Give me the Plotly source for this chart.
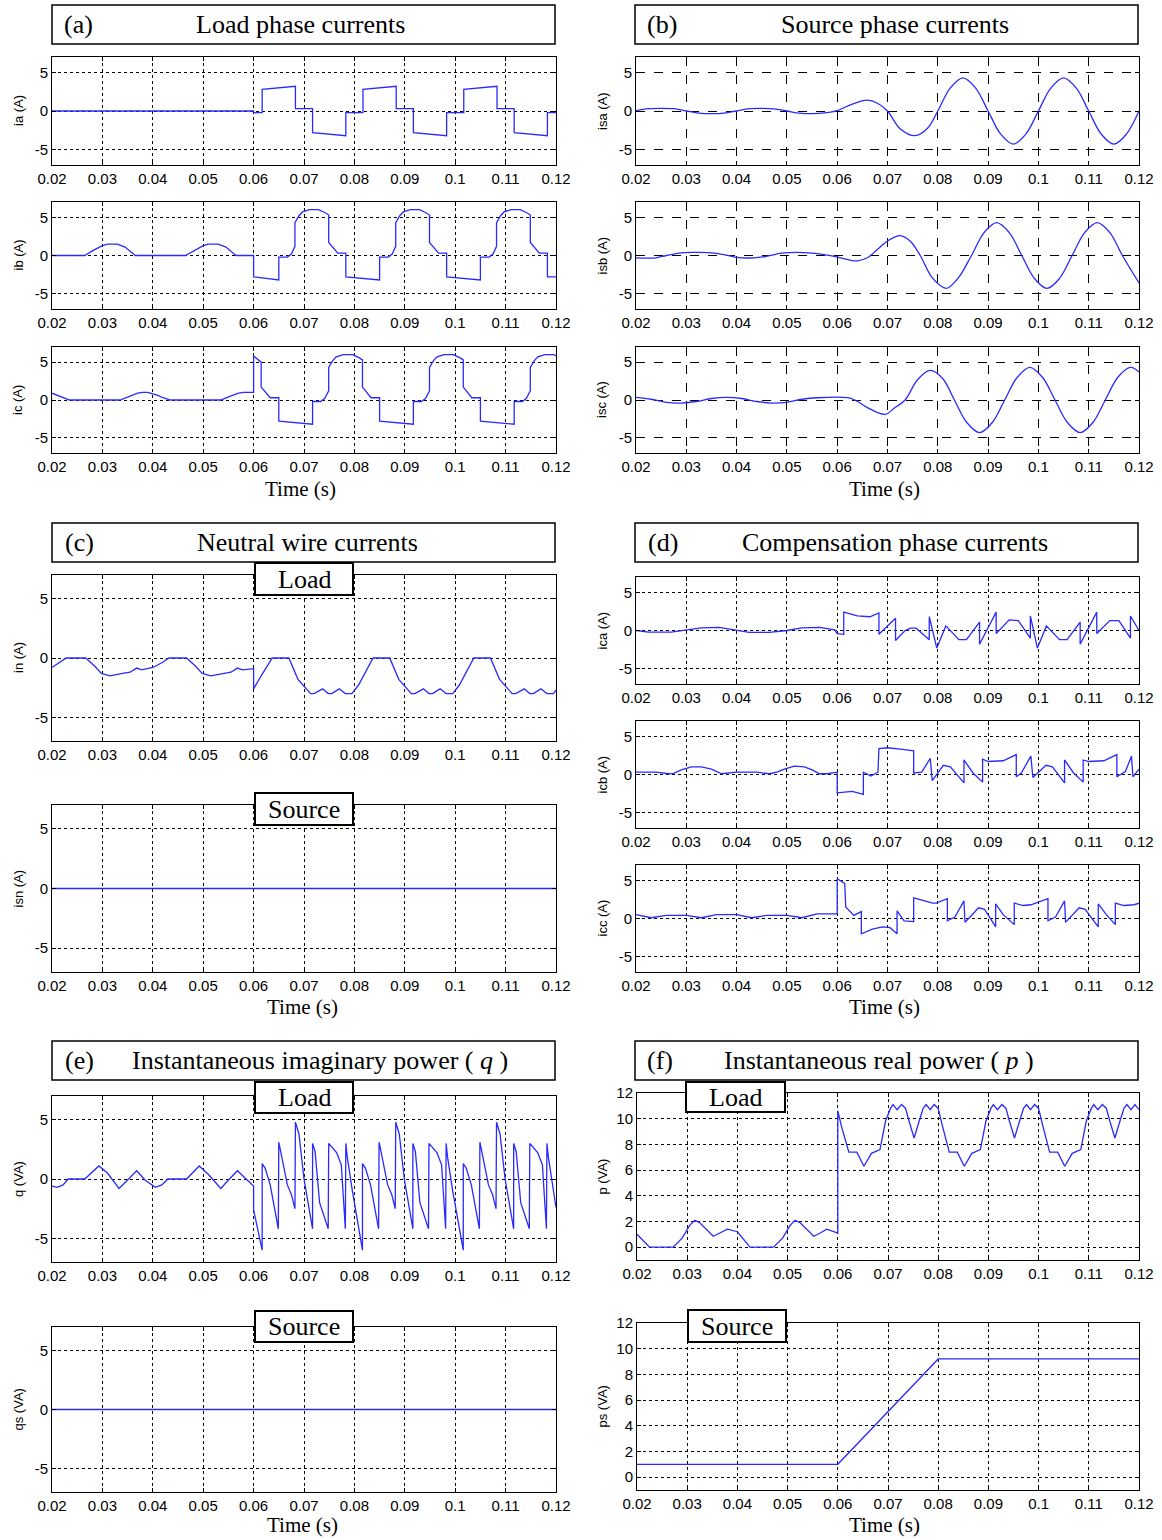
import plotly.graph_objects as go

# ---------------- data ----------------
x_ticks = [0.02, 0.03, 0.04, 0.05, 0.06, 0.07, 0.08, 0.09, 0.10, 0.11, 0.12]
x_tick_labels = ["0.02", "0.03", "0.04", "0.05", "0.06", "0.07", "0.08", "0.09", "0.1", "0.11", "0.12"]
i_ticks = [-5, 0, 5]
p_ticks = [0, 2, 4, 6, 8, 10, 12]

# (a) load phase currents
ia_t = [0.02, 0.06, 0.06, 0.0617, 0.0617, 0.0683, 0.0683, 0.0717, 0.0717, 0.0783, 0.0783, 0.0817, 0.0817,
        0.0883, 0.0883, 0.0917, 0.0917, 0.0983, 0.0983, 0.1017, 0.1017, 0.1083, 0.1083, 0.1117, 0.1117,
        0.1183, 0.1183, 0.12]
ia_v = [0, 0, -0.2, -0.2, 2.8, 3.2, 0.3, 0.3, -2.8, -3.2, -0.2, -0.2, 2.8,
        3.2, 0.3, 0.3, -2.8, -3.2, -0.2, -0.2, 2.8, 3.2, 0.3, 0.3, -2.8,
        -3.2, -0.2, -0.2]

ib_t = [0.02, 0.0265, 0.028, 0.030, 0.031, 0.033, 0.0345, 0.0355, 0.0365, 0.0465, 0.048, 0.050, 0.051, 0.053,
        0.0545, 0.0555, 0.0565, 0.06, 0.06, 0.065, 0.065, 0.0667, 0.0675, 0.0682, 0.0682, 0.069, 0.0697, 0.0711,
        0.0729, 0.0742, 0.0749, 0.0749, 0.0767, 0.0783, 0.0783, 0.085, 0.085, 0.0867, 0.0875, 0.0882, 0.0882,
        0.089, 0.0897, 0.0911, 0.0929, 0.0942, 0.0949, 0.0949, 0.0967, 0.0983, 0.0983, 0.105, 0.105, 0.1067,
        0.1075, 0.1082, 0.1082, 0.109, 0.1097, 0.1111, 0.1129, 0.1142, 0.1149, 0.1149, 0.1167, 0.1183, 0.1183, 0.12]
ib_v = [0, 0, 0.6, 1.3, 1.5, 1.5, 1.1, 0.5, 0, 0, 0.6, 1.3, 1.5, 1.5,
        1.1, 0.5, 0, 0, -2.8, -3.2, -0.2, -0.2, 0.2, 1.2, 4.3, 5.2, 5.7, 6.0,
        6.0, 5.6, 5.3, 1.7, 0.3, 0.3, -2.8, -3.2, -0.2, -0.2, 0.2, 1.2, 4.3,
        5.2, 5.7, 6.0, 6.0, 5.6, 5.3, 1.7, 0.3, 0.3, -2.8, -3.2, -0.2, -0.2,
        0.2, 1.2, 4.3, 5.2, 5.7, 6.0, 6.0, 5.6, 5.3, 1.7, 0.3, 0.3, -2.8, -2.8]

ic_t = [0.02, 0.0215, 0.0235, 0.0335, 0.035, 0.037, 0.038, 0.039, 0.041, 0.042, 0.0435, 0.0535, 0.055, 0.057,
        0.058, 0.06, 0.06, 0.0615, 0.0615, 0.0633, 0.065, 0.065, 0.0717, 0.0717, 0.0733, 0.0741, 0.0749, 0.0749,
        0.0757, 0.0764, 0.0778, 0.0796, 0.0809, 0.0816, 0.0816, 0.0833, 0.085, 0.085, 0.0917, 0.0917, 0.0933,
        0.0941, 0.0949, 0.0949, 0.0957, 0.0964, 0.0978, 0.0996, 0.1009, 0.1016, 0.1016, 0.1033, 0.105, 0.105,
        0.1117, 0.1117, 0.1133, 0.1141, 0.1149, 0.1149, 0.1157, 0.1164, 0.1178, 0.1196, 0.12]
ic_v = [0.9, 0.5, 0, 0, 0.4, 0.9, 1.0, 1.0, 0.6, 0.3, 0, 0, 0.4, 0.9,
        1.0, 1.0, 5.8, 5.0, 1.7, 0.3, 0.3, -2.8, -3.2, -0.2, -0.2, 0.2, 1.2, 4.3,
        5.2, 5.7, 6.0, 6.0, 5.6, 5.3, 1.7, 0.3, 0.3, -2.8, -3.2, -0.2, -0.2,
        0.2, 1.2, 4.3, 5.2, 5.7, 6.0, 6.0, 5.6, 5.3, 1.7, 0.3, 0.3, -2.8,
        -3.2, -0.2, -0.2, 0.2, 1.2, 4.3, 5.2, 5.7, 6.0, 6.0, 5.8]

# (b) source phase currents
isa_t = [0.02, 0.0225, 0.025, 0.0275, 0.03, 0.0325, 0.035, 0.0375, 0.04, 0.0425, 0.045, 0.0475, 0.05, 0.0525,
         0.055, 0.0575, 0.06, 0.063, 0.066, 0.068, 0.07, 0.0725, 0.0755, 0.078, 0.08, 0.0825, 0.085, 0.0875,
         0.09, 0.0925, 0.095, 0.0975, 0.10, 0.1025, 0.105, 0.1075, 0.11, 0.1125, 0.115, 0.1175, 0.12]
isa_v = [0.05, 0.3, 0.35, 0.3, 0.0, -0.28, -0.35, -0.28, 0.0, 0.3, 0.35, 0.28, 0.0, -0.28,
         -0.35, -0.25, 0.05, 0.9, 1.4, 1.0, 0.0, -2.3, -3.2, -2.2, 0.0, 3.0, 4.3, 3.0,
         0.0, -3.0, -4.3, -3.0, 0.0, 3.0, 4.3, 3.0, 0.0, -3.0, -4.3, -3.0, 0.0]

isb_t = [0.02, 0.024, 0.026, 0.029, 0.032, 0.035, 0.038, 0.04, 0.0435, 0.046, 0.049, 0.052, 0.055, 0.058,
         0.06, 0.0625, 0.064, 0.066, 0.068, 0.07, 0.0725, 0.0745, 0.0765, 0.079, 0.0817, 0.084, 0.0867,
         0.0892, 0.0917, 0.0942, 0.0967, 0.0992, 0.1017, 0.1042, 0.1067, 0.1092, 0.1117, 0.1142, 0.1167, 0.12]
isb_v = [-0.3, -0.3, 0.0, 0.35, 0.4, 0.35, 0.05, -0.25, -0.3, -0.1, 0.3, 0.4, 0.3, 0.05,
         -0.2, -0.6, -0.7, -0.3, 0.8, 1.9, 2.6, 1.9, 0.0, -3.0, -4.3, -3.0, 0.0,
         3.0, 4.3, 3.0, 0.0, -3.0, -4.3, -3.0, 0.0, 3.0, 4.3, 3.0, 0.0, -3.6]

isc_t = [0.02, 0.023, 0.026, 0.029, 0.032, 0.035, 0.038, 0.041, 0.044, 0.047, 0.05, 0.053, 0.056, 0.062,
         0.0635, 0.066, 0.0695, 0.0715, 0.0735, 0.076, 0.0785, 0.081, 0.0833, 0.0858, 0.0883, 0.0908, 0.0933,
         0.0958, 0.0983, 0.1008, 0.1033, 0.1058, 0.1083, 0.1108, 0.1133, 0.1158, 0.1183, 0.12]
isc_v = [0.35, 0.1, -0.3, -0.4, -0.2, 0.2, 0.35, 0.2, -0.2, -0.4, -0.3, 0.1, 0.3, 0.3,
         0.0, -1.0, -1.9, -1.0, 0.0, 2.7, 3.9, 2.8, 0.0, -3.0, -4.3, -3.0, 0.0,
         3.0, 4.3, 3.0, 0.0, -3.0, -4.3, -3.0, 0.0, 3.0, 4.3, 3.7]

# (c) neutral wire currents
in_t = [0.02, 0.0228, 0.0267, 0.0285, 0.0298, 0.0315, 0.034, 0.0355, 0.0368, 0.0378, 0.04, 0.0418, 0.0432,
        0.0467, 0.0485, 0.0498, 0.0515, 0.054, 0.0555, 0.0568, 0.0578, 0.06, 0.06, 0.0615, 0.0637, 0.067,
        0.0688, 0.0713, 0.072, 0.0737, 0.0748, 0.0755, 0.077, 0.0782, 0.0795, 0.0808, 0.0837, 0.087,
        0.0888, 0.0913, 0.092, 0.0937, 0.0948, 0.0955, 0.097, 0.0982, 0.0995, 0.1008, 0.1037, 0.107,
        0.1088, 0.1113, 0.112, 0.1137, 0.1148, 0.1155, 0.117, 0.1182, 0.1195, 0.12]
in_v = [-0.8, 0, 0, -0.7, -1.3, -1.5, -1.3, -1.2, -0.85, -1.0, -0.8, -0.4, 0,
        0, -0.7, -1.3, -1.5, -1.3, -1.2, -0.85, -1.0, -0.9, -2.6, -1.5, 0, 0,
        -1.8, -3.0, -3.0, -2.6, -3.0, -3.0, -2.6, -3.0, -3.0, -2.3, 0, 0,
        -1.8, -3.0, -3.0, -2.6, -3.0, -3.0, -2.6, -3.0, -3.0, -2.3, 0, 0,
        -1.8, -3.0, -3.0, -2.6, -3.0, -3.0, -2.6, -3.0, -3.0, -2.7]
isn_t = [0.02, 0.12]
isn_v = [0, 0]

# (d) compensation phase currents
ica_t = [0.02, 0.0225, 0.027, 0.03, 0.033, 0.0365, 0.04, 0.0425, 0.0465, 0.05, 0.053, 0.0565, 0.0595, 0.06,
         0.0613, 0.0613, 0.064, 0.0665, 0.0683, 0.0683, 0.0716, 0.0716, 0.0735, 0.0746, 0.0757, 0.0783, 0.0783,
         0.0798, 0.0816, 0.0842, 0.0857, 0.0883, 0.0883, 0.0916, 0.0916, 0.0942, 0.096, 0.0984, 0.0984, 0.0998,
         0.1016, 0.1042, 0.1057, 0.1083, 0.1083, 0.1116, 0.1116, 0.1142, 0.116, 0.1183, 0.1183, 0.12]
ica_v = [0.0, -0.2, -0.2, 0.05, 0.35, 0.4, 0.05, -0.25, -0.25, 0.0, 0.35, 0.4, 0.1, -0.4,
         -0.5, 2.4, 1.9, 1.8, 2.3, -0.5, 1.6, -1.3, 0.0, 0.3, 0.3, -1.2, 1.8,
         -2.3, 0.6, -1.2, -1.2, 1.1, -1.8, 2.4, -0.4, 1.4, 1.3, -1.0, 1.9, -2.3,
         0.6, -1.2, -1.2, 1.1, -1.8, 2.4, -0.4, 1.3, 1.3, -1.0, 1.9, 0.0]

icb_t = [0.02, 0.024, 0.0265, 0.0275, 0.029, 0.031, 0.033, 0.035, 0.037, 0.0385, 0.04, 0.044, 0.0465, 0.048,
         0.0495, 0.0515, 0.0535, 0.055, 0.0565, 0.058, 0.06, 0.06, 0.063, 0.0652, 0.0652, 0.0667, 0.0681, 0.0683,
         0.07, 0.073, 0.0752, 0.0752, 0.0768, 0.0785, 0.0789, 0.0811, 0.0825, 0.0852, 0.0852, 0.087, 0.0889,
         0.0889, 0.09, 0.093, 0.0956, 0.0956, 0.0966, 0.0985, 0.0989, 0.1015, 0.1028, 0.1052, 0.1052, 0.107,
         0.1089, 0.1089, 0.11, 0.113, 0.1156, 0.1156, 0.1173, 0.1185, 0.1188, 0.12]
icb_v = [0.3, 0.3, 0.1, 0.15, 0.6, 1.0, 1.0, 0.7, 0.1, 0.2, 0.3, 0.3, 0.1, 0.3,
         0.7, 1.1, 1.0, 0.6, 0.1, 0.1, 0.3, -2.4, -2.2, -2.6, 0.3, -0.2, 0.3, 3.4,
         3.5, 3.3, 3.1, 0.2, 0.3, 2.1, -0.8, 1.2, 1.0, -1.1, 1.9, 0.2, -1.0,
         2.0, 1.7, 1.8, 2.6, -0.3, 0.2, 2.4, -0.4, 1.2, 1.0, -1.1, 1.9, 0.2,
         -1.0, 1.9, 1.7, 1.8, 2.6, -0.3, 0.4, 2.4, -0.3, 0.7]

icc_t = [0.02, 0.023, 0.026, 0.03, 0.033, 0.036, 0.04, 0.043, 0.046, 0.05, 0.053, 0.056, 0.06, 0.06,
         0.0615, 0.0617, 0.0633, 0.0648, 0.0648, 0.067, 0.069, 0.0705, 0.0719, 0.0719, 0.0733, 0.0752, 0.0752,
         0.079, 0.0797, 0.0819, 0.0819, 0.0834, 0.0852, 0.0854, 0.0867, 0.0881, 0.0893, 0.0915, 0.0915, 0.093,
         0.0952, 0.0952, 0.097, 0.0985, 0.1019, 0.1019, 0.1034, 0.1052, 0.1054, 0.1067, 0.1081, 0.1093, 0.1119,
         0.1119, 0.1135, 0.1153, 0.1153, 0.117, 0.119, 0.12]
icc_v = [0.5, 0.1, 0.4, 0.4, 0.1, 0.5, 0.5, 0.1, 0.4, 0.4, 0.1, 0.6, 0.6, 5.2,
         4.6, 1.5, 0.4, 0.9, -2.0, -1.4, -1.1, -1.2, -2.0, 1.0, -0.3, -0.4, 2.7,
         2.0, 2.0, 2.6, -0.3, 0.2, 2.3, -0.5, 0.4, 1.4, 1.2, -1.1, 1.9, 0.5,
         -0.8, 2.0, 1.7, 1.8, 2.6, -0.3, 0.2, 2.3, -0.5, 0.4, 1.4, 1.2, -1.1,
         1.9, 0.5, -0.8, 2.0, 1.7, 1.8, 2.0]

# (e) instantaneous imaginary power
q_t = [0.02, 0.021, 0.0222, 0.0232, 0.0265, 0.0293, 0.031, 0.0333, 0.0352, 0.0368, 0.0385, 0.0405, 0.0418,
       0.043, 0.0467, 0.0492, 0.051, 0.0535, 0.0552, 0.0568, 0.0585, 0.0597, 0.06, 0.06, 0.0617,
       0.0617, 0.0623, 0.0633, 0.0649, 0.065, 0.0655, 0.0667, 0.0675, 0.0682, 0.0683, 0.069, 0.07, 0.0717,
       0.0717, 0.0722, 0.0731, 0.0748, 0.0749, 0.0765, 0.0774, 0.0782, 0.0783, 0.0786, 0.0796, 0.0816,
       0.0816, 0.0822, 0.0832, 0.0848, 0.0849, 0.0854, 0.0866, 0.0874, 0.0881, 0.0882, 0.0889, 0.0899, 0.0916,
       0.0916, 0.0921, 0.093, 0.0947, 0.0948, 0.0964, 0.0973, 0.0981, 0.0982, 0.0985, 0.0995, 0.1016,
       0.1016, 0.1022, 0.1032, 0.1048, 0.1049, 0.1054, 0.1066, 0.1074, 0.1081, 0.1082, 0.1089, 0.1099, 0.1116,
       0.1116, 0.1121, 0.113, 0.1147, 0.1148, 0.1164, 0.1173, 0.1181, 0.1182, 0.1185, 0.12]
q_v = [-0.6, -0.7, -0.5, 0, 0, 1.1, 0.5, -0.8, 0, 0.7, -0.1, -0.7, -0.5,
       0, 0, 1.1, 0.4, -0.8, 0, 0.7, 0, -0.5, -0.6, -2.6, -6.0,
       1.3, 0.9, -0.5, -4.2, 3.1, 2.0, -0.5, -1.3, -2.5, 4.8, 3.8, 0.0, -4.2,
       3.0, 2.3, -2.0, -4.2, 3.0, 2.2, 1.2, -4.2, 3.0, 1.8, -1.0, -6.0,
       1.3, 0.9, -0.5, -4.2, 3.1, 2.0, -0.5, -1.3, -2.5, 4.8, 3.8, 0.0, -4.2,
       3.0, 2.3, -2.0, -4.2, 3.0, 2.2, 1.2, -4.2, 3.0, 1.8, -1.0, -6.0,
       1.3, 0.9, -0.5, -4.2, 3.1, 2.0, -0.5, -1.3, -2.5, 4.8, 3.8, 0.0, -4.2,
       3.0, 2.3, -2.0, -4.2, 3.0, 2.2, 1.2, -4.2, 3.0, 1.8, -2.4]
qs_t = [0.02, 0.12]
qs_v = [0, 0]

# (f) instantaneous real power
p_t = [0.02, 0.0225, 0.0272, 0.029, 0.0305, 0.0315, 0.0325, 0.0352, 0.0365, 0.038, 0.04, 0.0425, 0.0472,
       0.049, 0.0505, 0.0515, 0.0525, 0.0552, 0.0565, 0.0578, 0.06, 0.06, 0.0608, 0.0622, 0.0638, 0.0652,
       0.0667, 0.0684, 0.0695, 0.0705, 0.071, 0.0718, 0.0727, 0.0735, 0.0742, 0.0752, 0.0762, 0.077, 0.0776,
       0.0784, 0.0792, 0.08, 0.0808, 0.0822, 0.0838, 0.0852, 0.0867, 0.0884, 0.0895, 0.0905, 0.091, 0.0918,
       0.0927, 0.0935, 0.0942, 0.0952, 0.0962, 0.097, 0.0976, 0.0984, 0.0992, 0.1, 0.1008, 0.1022, 0.1038,
       0.1052, 0.1067, 0.1084, 0.1095, 0.1105, 0.111, 0.1118, 0.1127, 0.1135, 0.1142, 0.1152, 0.1162, 0.117,
       0.1176, 0.1184, 0.1192, 0.12]
p_v = [1.0, 0, 0, 0.7, 1.7, 2.1, 1.9, 0.85, 1.1, 1.4, 1.2, 0, 0,
       0.7, 1.7, 2.1, 1.9, 0.85, 1.1, 1.4, 1.1, 10.6, 9.3, 7.4, 7.4, 6.3,
       7.3, 7.6, 9.8, 10.8, 11.1, 10.7, 11.1, 10.8, 9.8, 8.5, 9.8, 10.8, 11.1,
       10.7, 11.1, 10.8, 9.5, 7.4, 7.4, 6.3, 7.3, 7.6, 9.8, 10.8, 11.1, 10.7,
       11.1, 10.8, 9.8, 8.5, 9.8, 10.8, 11.1, 10.7, 11.1, 10.8, 9.5, 7.4, 7.4,
       6.3, 7.3, 7.6, 9.8, 10.8, 11.1, 10.7, 11.1, 10.8, 9.8, 8.5, 9.8, 10.8,
       11.1, 10.7, 11.1, 10.7]
ps_t = [0.02, 0.06, 0.08, 0.12]
ps_v = [1.0, 1.0, 9.2, 9.2]

# ---------------- figure construction ----------------
W, H = 1162, 1540
LINE = "#2a2aff"


def px(x):
    return x / W


def py(y):
    return 1 - y / H


# (label, t, v, x0, x1, y0, y1, yrange, yticks, griddash, smooth)
panels = [
    ("ia (A)", ia_t, ia_v, 52, 556, 57, 165, [-7, 7], i_ticks, "dot", False),
    ("ib (A)", ib_t, ib_v, 52, 556, 202, 309, [-7, 7], i_ticks, "dot", False),
    ("ic (A)", ic_t, ic_v, 52, 556, 347, 453, [-7, 7], i_ticks, "dot", False),
    ("isa (A)", isa_t, isa_v, 636, 1139, 57, 165, [-7, 7], i_ticks, "dash", True),
    ("isb (A)", isb_t, isb_v, 636, 1139, 202, 309, [-7, 7], i_ticks, "dash", True),
    ("isc (A)", isc_t, isc_v, 636, 1139, 347, 453, [-7, 7], i_ticks, "dash", True),
    ("in (A)", in_t, in_v, 52, 556, 575, 741, [-7, 7], i_ticks, "dot", False),
    ("isn (A)", isn_t, isn_v, 52, 556, 805, 972, [-7, 7], i_ticks, "dot", False),
    ("ica (A)", ica_t, ica_v, 636, 1139, 577, 684, [-7, 7], i_ticks, "dot", False),
    ("icb (A)", icb_t, icb_v, 636, 1139, 721, 828, [-7, 7], i_ticks, "dot", False),
    ("icc (A)", icc_t, icc_v, 636, 1139, 865, 972, [-7, 7], i_ticks, "dot", False),
    ("q (VA)", q_t, q_v, 52, 556, 1096, 1262, [-7, 7], i_ticks, "dot", False),
    ("qs (VA)", qs_t, qs_v, 52, 556, 1327, 1492, [-7, 7], i_ticks, "dot", False),
    ("p (VA)", p_t, p_v, 637, 1139, 1093, 1260, [-1, 12], p_ticks, "dot", False),
    ("ps (VA)", ps_t, ps_v, 637, 1139, 1323, 1490, [-1, 12], p_ticks, "dot", False),
]

fig = go.Figure()
annotations = []
shapes = []
sans = "Liberation Sans, Arial, sans-serif"
serif = "Liberation Serif, Times New Roman, serif"
tickfont = dict(family=sans, size=15, color="black")


def ann(x, y, text, size, family, angle=0):
    return dict(x=px(x), y=py(y), xref="paper", yref="paper", text=text, showarrow=False,
                xanchor="center", yanchor="middle", textangle=angle,
                font=dict(family=family, size=size, color="black"))


for i, (lab, t, v, x0, x1, y0, y1, yr, yt, gd, smooth) in enumerate(panels, start=1):
    suffix = "" if i == 1 else str(i)
    fig.add_trace(go.Scatter(
        x=t, y=v, mode="lines",
        line=dict(color=LINE, width=1.3, shape="spline" if smooth else "linear", smoothing=1.0),
        xaxis="x" + suffix, yaxis="y" + suffix, showlegend=False, hoverinfo="skip"))
    common = dict(showgrid=True, gridcolor="black", griddash=gd, gridwidth=1,
                  showline=True, linecolor="black", linewidth=1, mirror="allticks",
                  ticks="inside", ticklen=4, tickcolor="black", zeroline=False,
                  tickfont=tickfont, fixedrange=True, automargin=False)
    fig.update_layout({
        "xaxis" + suffix: dict(domain=[px(x0), px(x1)], anchor="y" + suffix, range=[0.02, 0.12],
                               tickvals=x_ticks, ticktext=x_tick_labels, **common),
        "yaxis" + suffix: dict(domain=[py(y1), py(y0)], anchor="x" + suffix, range=yr,
                               tickvals=yt, ticktext=[str(k) for k in yt], **common),
    })
    lx = 18 if x0 < 300 else 602
    annotations.append(ann(lx, (y0 + y1) / 2, lab, 13, sans, -90))

# title boxes: (x0, x1, y0, y1, letter, letter_x, title, title_x)
title_boxes = [
    (52, 555, 5, 44, "(a)", 78, "Load phase currents", 300),
    (635, 1138, 5, 44, "(b)", 662, "Source phase currents", 895),
    (52, 555, 523, 562, "(c)", 79, "Neutral wire currents", 307),
    (635, 1138, 523, 562, "(d)", 663, "Compensation phase currents", 895),
    (52, 555, 1041, 1080, "(e)", 79, "Instantaneous imaginary power ( <i>q</i> )", 320),
    (635, 1138, 1041, 1080, "(f)", 660, "Instantaneous real power ( <i>p</i> )", 879),
]
for (x0, x1, y0, y1, let, lxp, ttl, tx) in title_boxes:
    shapes.append(dict(type="rect", xref="paper", yref="paper", x0=px(x0), x1=px(x1), y0=py(y1), y1=py(y0),
                       line=dict(color="black", width=1.5), fillcolor="white", layer="above"))
    yc = (y0 + y1) / 2
    annotations.append(ann(lxp, yc, let, 26, serif))
    annotations.append(ann(tx, yc, ttl, 26, serif))

# small Load/Source labels
small_boxes = [
    (255, 353, 563, 595, "Load"),
    (255, 353, 793, 825, "Source"),
    (255, 353, 1082, 1113, "Load"),
    (255, 353, 1311, 1342, "Source"),
    (686, 785, 1082, 1112, "Load"),
    (688, 786, 1310, 1342, "Source"),
]
for (x0, x1, y0, y1, txt) in small_boxes:
    shapes.append(dict(type="rect", xref="paper", yref="paper", x0=px(x0), x1=px(x1), y0=py(y1), y1=py(y0),
                       line=dict(color="black", width=2), fillcolor="white", layer="above"))
    annotations.append(ann((x0 + x1) / 2, (y0 + y1) / 2, txt, 26, serif))

# Time (s) labels
for (tx, ty) in [(300, 489), (884, 489), (302, 1007), (884, 1007), (302, 1525), (884, 1525)]:
    annotations.append(ann(tx, ty, "Time (s)", 21, serif))

fig.update_layout(width=W, height=H, margin=dict(l=0, r=0, t=0, b=0, autoexpand=False),
                  paper_bgcolor="white", plot_bgcolor="white",
                  annotations=annotations, shapes=shapes, showlegend=False)

fig.write_html("out.html", post_script="document.body.style.margin='0';",
               config={"displayModeBar": False})
